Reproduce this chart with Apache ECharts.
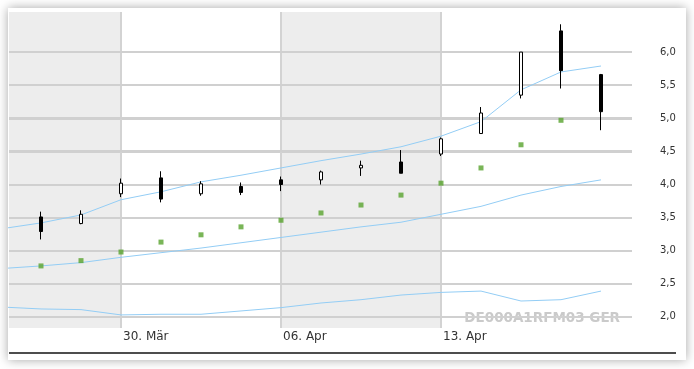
<!DOCTYPE html>
<html><head><meta charset="utf-8">
<script src="https://cdn.jsdelivr.net/npm/echarts@6/dist/echarts.min.js"></script>
<style>html,body{margin:0;padding:0;background:#fff;}#c{width:694px;height:369px;}</style>
</head><body><div id="c"></div>
<script>
// ---- data ----
const dayIndex = [0,1,2,3,4,5,6,7,8,9,10,11,12,13,14];
const opens  = [3.51,3.41,3.86,4.10,3.86,3.97,4.07,4.07,4.25,4.34,4.46,4.77,5.35,6.32,5.66];
const closes = [3.29,3.55,4.02,3.78,4.01,3.88,4.00,4.19,4.29,4.17,4.69,5.08,6.00,5.72,5.10];
const lows   = [3.17,3.40,3.81,3.73,3.83,3.84,3.90,4.00,4.13,4.17,4.43,4.77,5.30,5.45,4.82];
const highs  = [3.59,3.61,4.09,4.20,4.05,4.03,4.12,4.21,4.36,4.52,4.71,5.17,6.00,6.42,5.67];

const sarIndex  = [0,1,2,3,4,5,6,7,8,9,10,11,12,13];
const sarValues = [2.77,2.85,2.98,3.13,3.24,3.36,3.46,3.57,3.69,3.84,4.02,4.25,4.60,4.97];

const bandIndex  = [-1,0,1,2,3,4,5,6,7,8,9,10,11,12,13,14];
const upperBand  = [3.33,3.42,3.54,3.77,3.89,4.04,4.14,4.25,4.36,4.46,4.57,4.73,4.95,5.43,5.70,5.79];
const middleBand = [2.73,2.77,2.82,2.90,2.97,3.04,3.12,3.20,3.28,3.36,3.43,3.55,3.67,3.84,3.97,4.07];
const lowerBand  = [2.15,2.12,2.11,2.03,2.04,2.04,2.09,2.14,2.21,2.26,2.33,2.37,2.39,2.24,2.26,2.39];

const weekLabels     = ['30. Mär','06. Apr','13. Apr'];
const weekStartIndex = [2,6,10];
const X_MIN = -0.8, X_MAX = 14.775;
const shadedWeeks    = [[X_MIN,2],[6,10]];
const priceTicks     = [2.0,2.5,3.0,3.5,4.0,4.5,5.0,5.5,6.0];
const watermark      = 'DE000A1RFM03 GER';

// ---- chart ----
const chart = echarts.init(document.getElementById('c'), null, {renderer:'canvas'});
const bandColor = '#93cdf5';
const pairs = (xs, ys) => xs.map((x,i)=>[x, ys[i]]);
const D = {xAxisIndex:1, yAxisIndex:1};
const baseGraphics = [
  {type:'rect', z:-10, shape:{x:8,y:8,width:678,height:352},
   style:{fill:'#fff', shadowBlur:10, shadowColor:'rgba(0,0,0,0.35)'}},
  {type:'line', z:-9, shape:{x1:9,y1:353,x2:676,y2:353},
   style:{stroke:'#4d4d4d', lineWidth:2}},
  {type:'text', z:1.2, x:620, y:318,
   style:{text:watermark, textAlign:'right', textVerticalAlign:'middle',
          font:'bold 13.5px "DejaVu Sans"', fill:'#cacaca'}}
];

chart.setOption({
  animation: false,
  backgroundColor: '#fff',
  textStyle: {fontFamily: 'DejaVu Sans'},
  graphic: baseGraphics,
  grid: [
    {left:9, right:62, top:12, bottom:41},
    {left:9, right:62, top:19, bottom:19}
  ],
  xAxis: [
    {type:'value', gridIndex:0, min:X_MIN, max:X_MAX,
     axisLine:{show:false}, axisTick:{show:false}, splitLine:{show:false},
     axisLabel:{customValues: weekStartIndex,
       formatter: v => weekLabels[weekStartIndex.indexOf(v)] || '',
       align:'left', padding:[0,0,0,2], margin:3, fontSize:12, color:'#333'}},
    {type:'value', gridIndex:1, min:X_MIN, max:X_MAX, show:false}
  ],
  yAxis: [
    {type:'value', gridIndex:0, min:0, max:1, show:false},
    {type:'value', gridIndex:1, position:'right', min:1.5, max:6.5, interval:0.5, z:1.5,
     axisLine:{show:false}, axisTick:{show:false},
     splitLine:{show:true, showMinLine:false, showMaxLine:false,
       lineStyle:{color:'#d0d0d0', width:2}},
     axisLabel:{customValues: priceTicks,
       formatter: v => v.toFixed(1).replace('.', ','),
       margin:28, fontSize:10, color:'#333'}}
  ],
  series: [
    {type:'scatter', name:'weeks', xAxisIndex:0, yAxisIndex:0, silent:true, symbolSize:0,
     data: weekStartIndex.map(v => [v, 0.5]),
     markArea:{silent:true, z:1, itemStyle:{color:'#ededed'},
       data: shadedWeeks.map(w => [{xAxis:w[0]},{xAxis:w[1]}])},
     markLine:{silent:true, z:1.5, symbol:'none', label:{show:false},
       lineStyle:{color:'#d3d3d3', width:2, type:'solid'},
       data: weekStartIndex.map(v => ({xAxis:v}))}
    },
    Object.assign({type:'line', name:'upper', data: pairs(bandIndex, upperBand), symbol:'none', silent:true,
     lineStyle:{color:bandColor, width:1}, z:3}, D),
    Object.assign({type:'line', name:'middle', data: pairs(bandIndex, middleBand), symbol:'none', silent:true,
     lineStyle:{color:bandColor, width:1}, z:3}, D),
    Object.assign({type:'line', name:'lower', data: pairs(bandIndex, lowerBand), symbol:'none', silent:true,
     lineStyle:{color:bandColor, width:1}, z:3}, D),
    Object.assign({type:'scatter', name:'sar', data: pairs(sarIndex, sarValues), symbol:'rect', symbolSize:5,
     itemStyle:{color:'#58a22d'}, z:4}, D),
    Object.assign({type:'candlestick', name:'price', barWidth:4, z:5,
     data: dayIndex.map(i => [i, opens[i], closes[i], lows[i], highs[i]]),
     encode:{x:0, y:[1,2,3,4]},
     itemStyle:{color:'#fff', color0:'#000', borderColor:'#000', borderColor0:'#000', borderWidth:1}}, D)
  ]
});

// Horizontal price gridlines, positioned through the price axis scale.
const x0 = chart.convertToPixel({xAxisIndex:1}, X_MIN);
const x1 = chart.convertToPixel({xAxisIndex:1}, X_MAX);
const gridLines = priceTicks.map(v => {
  const y = Math.round(chart.convertToPixel({yAxisIndex:1}, v));
  return {type:'line', z:1.5, silent:true, shape:{x1:x0, y1:y, x2:x1, y2:y},
          style:{stroke:'#d0d0d0', lineWidth:2}};
});
chart.setOption({graphic: baseGraphics.concat(gridLines)}, {replaceMerge:['graphic']});
</script></body></html>
